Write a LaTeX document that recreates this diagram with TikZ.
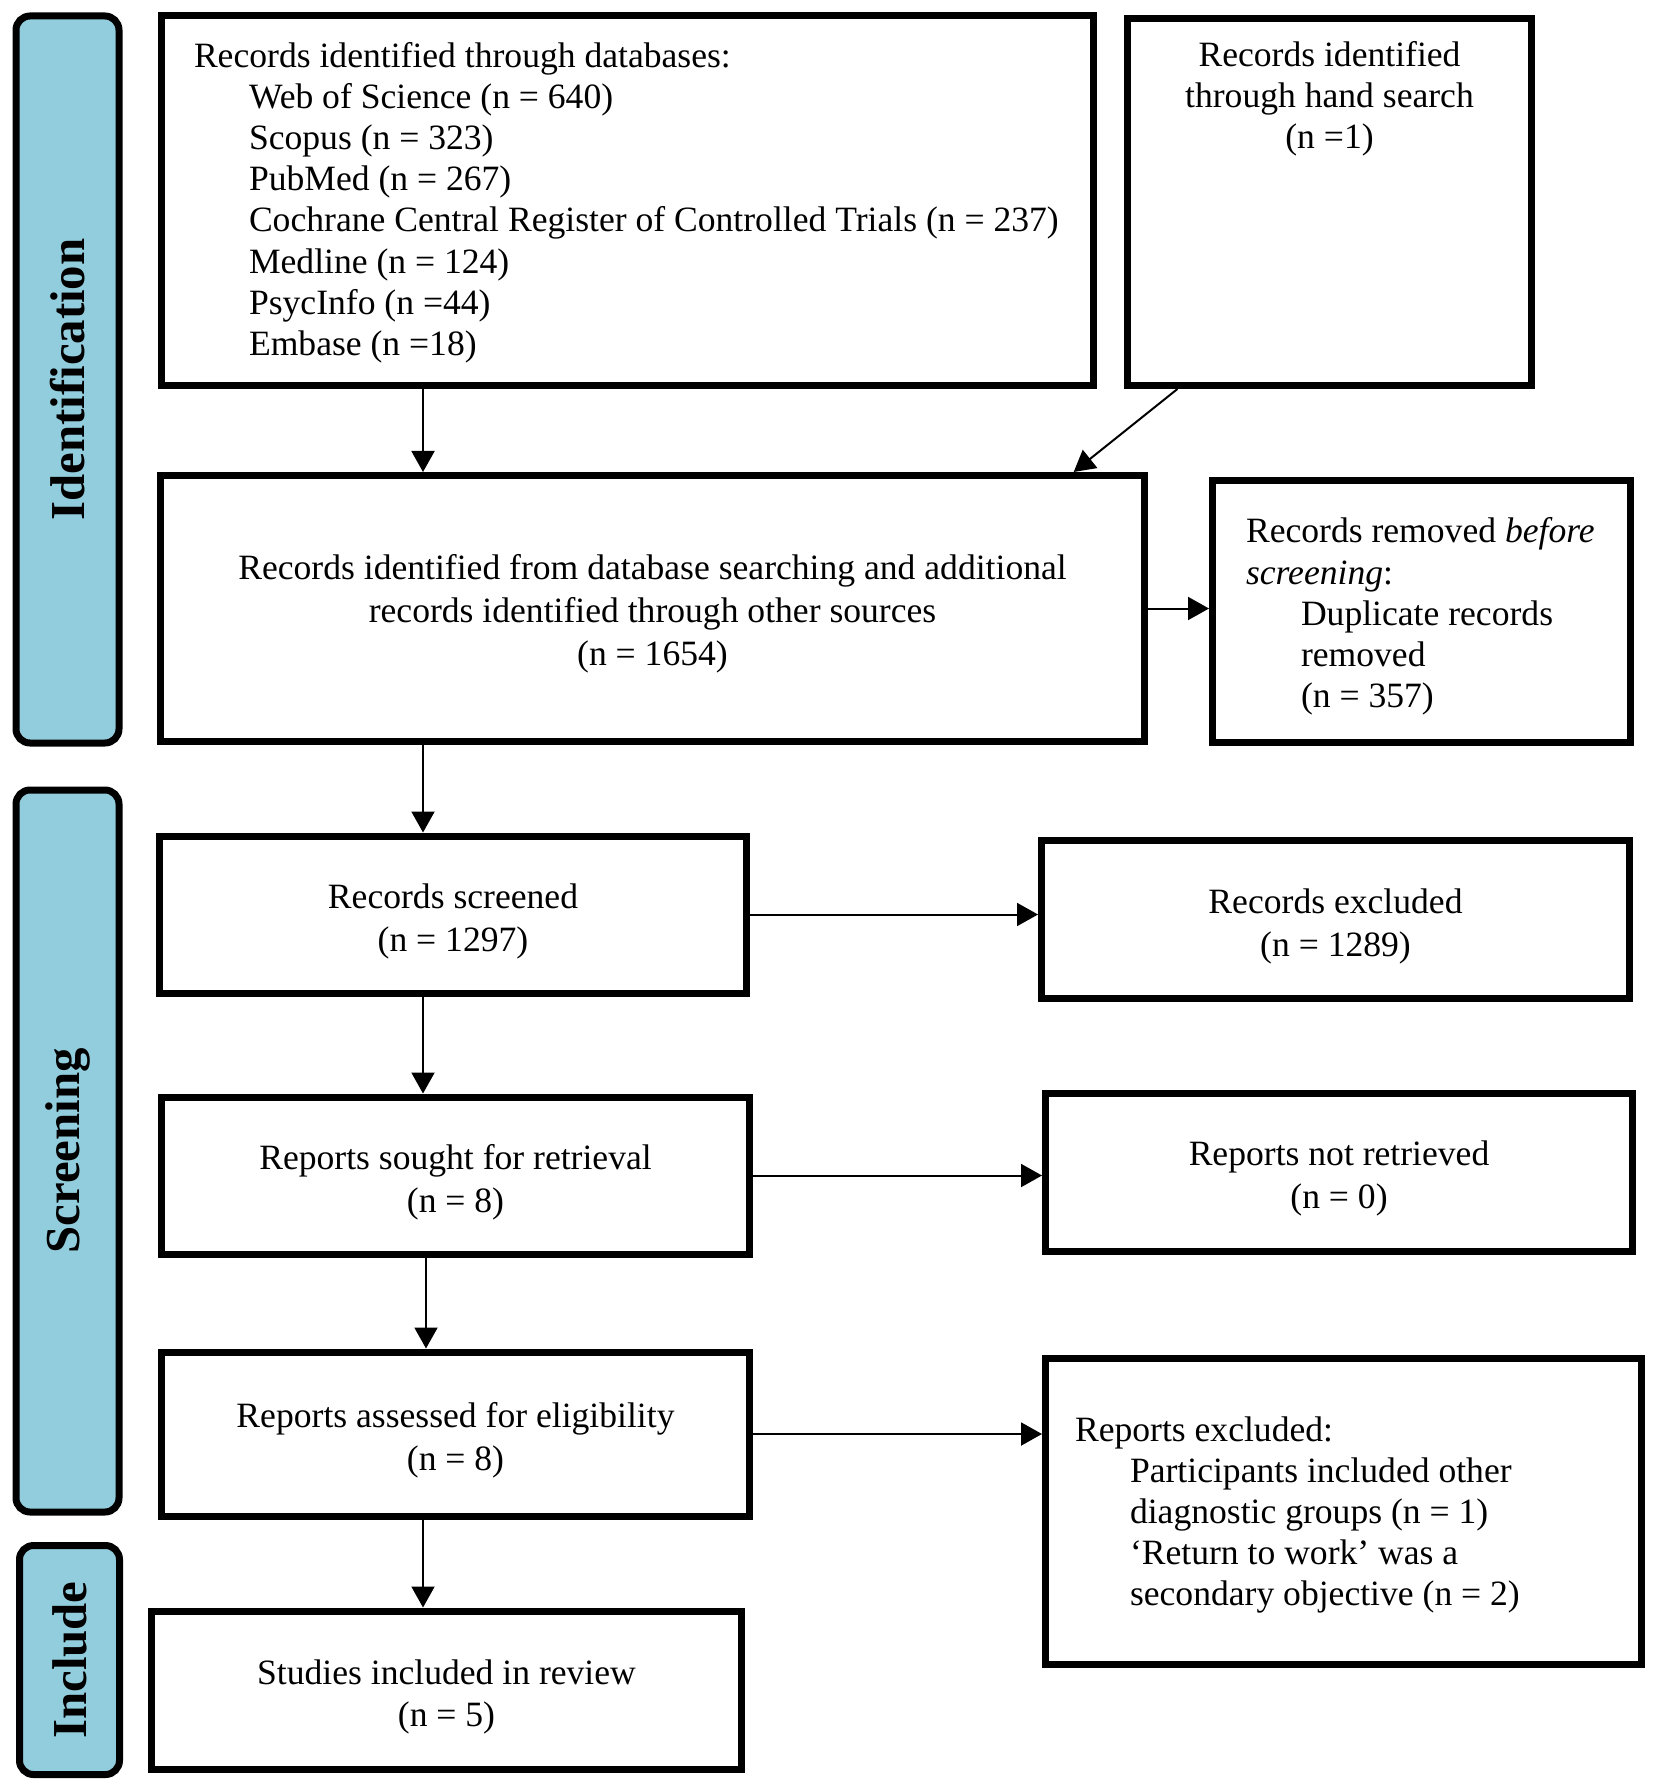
\documentclass[tikz,border=0pt]{standalone}
\usepackage{fontspec}
\setmainfont{Liberation Serif}
\usetikzlibrary{arrows.meta,calc}
\definecolor{bandblue}{RGB}{146,205,221}
\newcommand{\strA}{\rule{0pt}{19pt}}
\newcommand{\myind}{\hspace*{27.5pt}}
\begin{document}
\begin{tikzpicture}[x=0.5pt,y=-0.5pt,
  box/.style={draw=black, line width=3.5pt, rectangle, fill=white, align=center,
    font=\fontsize{17.8pt}{21.4pt}\selectfont, inner ysep=2pt},
  lbox/.style={draw=black, line width=3.5pt, rectangle, fill=white,
    font=\fontsize{17.8pt}{20.6pt}\selectfont, inner ysep=2pt},
  band/.style={draw=black, line width=3.5pt, fill=bandblue, rounded corners=7pt,
    rotate=90, font=\fontsize{24.4pt}{28pt}\selectfont\bfseries, inner sep=0pt},
  arr/.style={line width=1pt, -{Triangle[length=10.5pt,width=11.5pt]}}]
\useasboundingbox (0,0) rectangle (1654,1786);

% phase bands
\node[band, minimum width=363.5pt, minimum height=51.5pt] (bid) at (67.5,379.5) {Identification};
\node[band, minimum width=361pt, minimum height=51.5pt] (bsc) at (67.5,1151) {Screening};
\node[band, minimum width=114.5pt, minimum height=50pt] (bin) at (69.5,1660) {Include};

% boxes
\node[lbox, minimum width=466pt, minimum height=184.75pt, inner xsep=16.25pt] (db) at (627.5,200.75)
  {\parbox{433.5pt}{\raggedright\hbadness=10000
   \rule{0pt}{14.3pt}Records identified through databases:\\
   \myind Web of Science (n = 640)\\
   \myind Scopus (n = 323)\\
   \myind PubMed (n = 267)\\
   \mbox{\myind Cochrane Central Register of Controlled Trials (n = 237)}\\
   \myind Medline (n = 124)\\
   \myind PsycInfo (n =44)\\
   \myind Embase (n =18)}};

\node[box, minimum width=202pt, minimum height=183.5pt, inner sep=0pt] (hand) at (1329.5,202)
  {\parbox[c][183.5pt][t]{202pt}{\fontsize{17.8pt}{20.6pt}\selectfont\centering\vspace*{11.3pt}Records identified\\through hand search\\(n =1)}};

\node[box, minimum width=492pt, minimum height=133pt] (comb) at (652.5,608.5)
  {\rule{0pt}{18pt}Records identified from database searching and additional\\records identified through other sources\\(n = 1654)};

\node[lbox, minimum width=209pt, minimum height=131pt, inner xsep=16.75pt] (rem) at (1421.5,611.5)
  {\parbox{175.5pt}{\raggedright\hbadness=10000
   \rule{0pt}{17.5pt}\mbox{Records removed \textit{before}}\\
   \textit{screening}:\\
   \myind Duplicate records\\
   \myind removed\\
   \myind (n = 357)}};

\node[box, minimum width=293.5pt, minimum height=78.5pt] (scr) at (453,914.5)
  {\strA Records screened\\(n = 1297)};
\node[box, minimum width=294pt, minimum height=79pt] (exc) at (1335.5,919.5)
  {\strA Records excluded\\(n = 1289)};

\node[box, minimum width=294pt, minimum height=78.5pt] (sought) at (455.5,1175.5)
  {\strA Reports sought for retrieval\\(n = 8)};
\node[box, minimum width=293.5pt, minimum height=79pt] (notret) at (1339,1172)
  {\strA Reports not retrieved\\(n = 0)};

\node[box, minimum width=294pt, minimum height=82pt] (assess) at (455.5,1434)
  {\strA Reports assessed for eligibility\\(n = 8)};
\node[lbox, minimum width=298pt, minimum height=153.25pt, inner xsep=14.75pt] (repex) at (1343.5,1511.25)
  {\parbox{268.5pt}{\raggedright\hbadness=10000
   \rule{0pt}{16pt}Reports excluded:\\
   \myind Participants included other\\
   \myind diagnostic groups (n = 1)\\
   \myind ‘Return to work’ was a\\
   \myind secondary objective (n = 2)}};

\node[box, minimum width=295pt, minimum height=79.25pt] (incl) at (446.5,1690.25)
  {\strA Studies included in review\\(n = 5)};

% connectors
\coordinate (ax) at (423,0);
\coordinate (bx) at (426,0);
\draw[arr] (db.south -| ax) -- (comb.north -| ax);
\draw[arr] ($(hand.south west)!0.13!(hand.south east)$) -- ($(comb.north west)!0.925!(comb.north east)$);
\draw[arr] (comb.east) -- (comb.east -| rem.west);
\draw[arr] (comb.south -| ax) -- (scr.north -| ax);
\draw[arr] (scr.east) -- (scr.east -| exc.west);
\draw[arr] (scr.south -| ax) -- (sought.north -| ax);
\draw[arr] (sought.east) -- (sought.east -| notret.west);
\draw[arr] (sought.south -| bx) -- (assess.north -| bx);
\draw[arr] (assess.east) -- (assess.east -| repex.west);
\draw[arr] (assess.south -| ax) -- (incl.north -| ax);
\end{tikzpicture}
\end{document}
